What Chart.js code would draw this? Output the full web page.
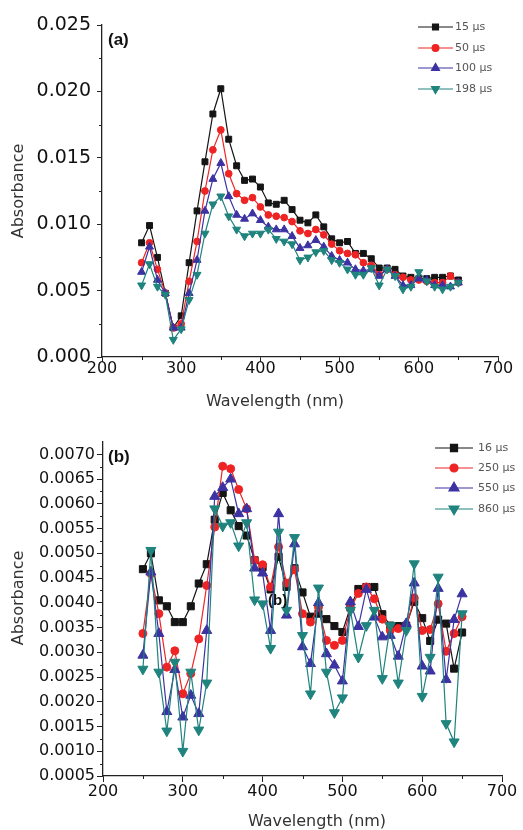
<!DOCTYPE html>
<html lang="en">
<head>
<meta charset="utf-8">
<script src="https://cdn.jsdelivr.net/npm/chart.js"></script>
<style>
  body { margin: 0; background: #fff; }
  .panel { position: absolute; left: 0; width: 523px; height: 415px; }
</style>
</head>
<body>
<div class="panel" style="top:0"><canvas id="chartA" width="523" height="415"></canvas></div>
<div class="panel" style="top:415px"><canvas id="chartB" width="523" height="415"></canvas></div>
<script>
const wavelength = [250, 260, 270, 280, 290, 300, 310, 320, 330, 340, 350, 360, 370, 380, 390, 400, 410, 420, 430, 440,
  450, 460, 470, 480, 490, 500, 510, 520, 530, 540, 550, 560, 570, 580, 590, 600, 610, 620, 630, 640, 650];

// panel (a)
const abs15 = [0.0086, 0.0099, 0.0075, 0.0048, 0.0022, 0.0031, 0.0071, 0.0110, 0.0147, 0.0183, 0.0202, 0.0164, 0.0144, 0.0133,
  0.0134, 0.0128, 0.0116, 0.0115, 0.0118, 0.0111, 0.0103, 0.0101, 0.0107, 0.0098, 0.0089, 0.0086, 0.0087, 0.0078, 0.0078,
  0.0074, 0.0067, 0.0067, 0.0066, 0.0061, 0.0060, 0.0059, 0.0059, 0.0060, 0.0060, 0.0061, 0.0058];
const abs50 = [0.0071, 0.0086, 0.0066, 0.0048, 0.0022, 0.0025, 0.0057, 0.0087, 0.0125, 0.0156, 0.0171, 0.0138, 0.0123, 0.0118,
  0.0120, 0.0113, 0.0107, 0.0106, 0.0105, 0.0102, 0.0095, 0.0093, 0.0096, 0.0092, 0.0085, 0.0080, 0.0078, 0.0077, 0.0071,
  0.0069, 0.0062, 0.0066, 0.0062, 0.0060, 0.0058, 0.0058, 0.0057, 0.0056, 0.0056, 0.0061, 0.0056];
const abs100 = [0.0064, 0.0083, 0.0058, 0.0048, 0.0022, 0.0022, 0.0048, 0.0073, 0.0110, 0.0134, 0.0146, 0.0121, 0.0107, 0.0104,
  0.0108, 0.0103, 0.0098, 0.0096, 0.0096, 0.0091, 0.0082, 0.0084, 0.0088, 0.0083, 0.0076, 0.0073, 0.0071, 0.0066, 0.0065,
  0.0066, 0.0061, 0.0066, 0.0061, 0.0054, 0.0054, 0.0059, 0.0058, 0.0054, 0.0054, 0.0053, 0.0056];
const abs198 = [0.0054, 0.0070, 0.0053, 0.0047, 0.0013, 0.0021, 0.0043, 0.0062, 0.0093, 0.0115, 0.0121, 0.0106, 0.0096, 0.0091,
  0.0093, 0.0093, 0.0096, 0.0089, 0.0087, 0.0085, 0.0073, 0.0075, 0.0079, 0.0080, 0.0073, 0.0071, 0.0066, 0.0062, 0.0062,
  0.0067, 0.0054, 0.0066, 0.0061, 0.0051, 0.0053, 0.0064, 0.0057, 0.0053, 0.0051, 0.0053, 0.0056];

// panel (b)
const abs16 = [0.00468, 0.00500, 0.00405, 0.00393, 0.00361, 0.00361, 0.00393, 0.00439, 0.00478, 0.00568, 0.00622, 0.00587,
  0.00555, 0.00536, 0.00486, 0.00472, 0.00427, 0.00493, 0.00432, 0.00470, 0.00421, 0.00372, 0.00378, 0.00367, 0.00353,
  0.00341, 0.00391, 0.00428, 0.00432, 0.00432, 0.00377, 0.00354, 0.00353, 0.00354, 0.00402, 0.00369, 0.00323, 0.00366,
  0.00358, 0.00267, 0.00340];
const abs250 = [0.00338, 0.00459, 0.00378, 0.00270, 0.00303, 0.00216, 0.00257, 0.00327, 0.00435, 0.00553, 0.00676, 0.00671,
  0.00629, 0.00590, 0.00486, 0.00477, 0.00432, 0.00513, 0.00440, 0.00467, 0.00378, 0.00361, 0.00391, 0.00324, 0.00314,
  0.00324, 0.00388, 0.00419, 0.00432, 0.00408, 0.00367, 0.00344, 0.00348, 0.00351, 0.00410, 0.00344, 0.00346, 0.00398,
  0.00302, 0.00338, 0.00372];
const abs550 = [0.00294, 0.00462, 0.00338, 0.00180, 0.00265, 0.00169, 0.00213, 0.00176, 0.00344, 0.00615, 0.00633, 0.00650,
  0.00580, 0.00590, 0.00470, 0.00460, 0.00344, 0.00580, 0.00375, 0.00519, 0.00311, 0.00277, 0.00400, 0.00297, 0.00274,
  0.00242, 0.00402, 0.00352, 0.00427, 0.00371, 0.00331, 0.00334, 0.00292, 0.00358, 0.00440, 0.00272, 0.00262, 0.00429,
  0.00245, 0.00366, 0.00418];
const abs860 = [0.00266, 0.00506, 0.00260, 0.00141, 0.00280, 0.00100, 0.00260, 0.00143, 0.00238, 0.00590, 0.00555, 0.00562,
  0.00515, 0.00562, 0.00406, 0.00398, 0.00308, 0.00543, 0.00385, 0.00532, 0.00334, 0.00216, 0.00430, 0.00260, 0.00178,
  0.00208, 0.00385, 0.00290, 0.00354, 0.00385, 0.00247, 0.00354, 0.00238, 0.00344, 0.00479, 0.00211, 0.00290, 0.00452,
  0.00156, 0.00119, 0.00378];

const BLACK = '#151515', RED = '#ee2424', BLUE = '#3c32a2', TEAL = '#1f837e';

function series(label, values, color, style, radius, rotation, order) {
  return {
    label: label,
    data: wavelength.map((w, i) => ({ x: w, y: values[i] })),
    borderColor: color,
    backgroundColor: color,
    borderWidth: 1.2,
    pointStyle: style,
    pointRadius: radius,
    pointRotation: rotation,
    pointBorderWidth: 1,
    tension: 0,
    order: order
  };
}

// minor ticks, line+marker legend and free text
const extras = {
  id: 'extras',
  afterDraw(chart, args, o) {
    const ctx = chart.ctx;
    ctx.save();
    ctx.strokeStyle = '#222';
    ctx.lineWidth = 1;
    ['x', 'y'].forEach(id => {
      const s = chart.scales[id];
      for (let i = 1; i < s.ticks.length; i++) {
        const p = Math.round(s.getPixelForValue((s.ticks[i - 1].value + s.ticks[i].value) / 2)) + 0.5;
        ctx.beginPath();
        if (id === 'x') { ctx.moveTo(p, s.top); ctx.lineTo(p, s.top + o.minorLen); }
        else { ctx.moveTo(s.right, p); ctx.lineTo(s.right - o.minorLen, p); }
        ctx.stroke();
      }
    });

    const lg = o.legend;
    chart.data.datasets.forEach((d, i) => {
      const y = lg.y[i];
      ctx.strokeStyle = d.borderColor;
      ctx.fillStyle = d.backgroundColor;
      ctx.lineWidth = 1.2;
      ctx.beginPath();
      ctx.moveTo(lg.x1, y);
      ctx.lineTo(lg.x2, y);
      ctx.stroke();
      Chart.helpers.drawPoint(ctx, {
        pointStyle: d.pointStyle, radius: d.pointRadius, rotation: d.pointRotation, borderWidth: 1
      }, (lg.x1 + lg.x2) / 2, y);
      ctx.fillStyle = '#555';
      ctx.font = lg.font;
      ctx.textAlign = 'left';
      ctx.textBaseline = 'middle';
      ctx.fillText(d.label, lg.x2 + lg.gap, y);
    });

    o.texts.forEach(t => {
      ctx.save();
      ctx.translate(t.x, t.y);
      if (t.rot) ctx.rotate(-Math.PI / 2);
      ctx.font = t.font;
      ctx.fillStyle = t.color || '#222';
      ctx.textAlign = t.align || 'center';
      ctx.textBaseline = 'middle';
      ctx.fillText(t.text, 0, 0);
      ctx.restore();
    });
    ctx.restore();
  }
};

function scales(yMin, yMax, yStep, digits, yFont, xFont, yWidth, xHeight, tickLen, xPad, yPad) {
  const grid = { display: true, drawOnChartArea: false, drawTicks: true, tickLength: tickLen, tickColor: '#222', tickWidth: 1 };
  const border = { display: true, color: '#222', width: 1.3 };
  return {
    x: {
      type: 'linear', min: 200, max: 700,
      grid: grid, border: border,
      ticks: { stepSize: 100, color: '#111', padding: xPad, maxRotation: 0,
        font: { family: 'DejaVu Sans', size: xFont } },
      afterFit: s => { s.height = xHeight; }
    },
    y: {
      min: yMin, max: yMax,
      grid: grid, border: border,
      ticks: { stepSize: yStep, includeBounds: false, color: '#111', padding: yPad,
        font: { family: 'DejaVu Sans', size: yFont },
        callback: v => v.toFixed(digits) },
      afterFit: s => { s.width = yWidth; }
    }
  };
}

new Chart(document.getElementById('chartA'), {
  type: 'line',
  data: {
    datasets: [
      series('15 µs', abs15, BLACK, 'rect', 4.2, 0, 3),
      series('50 µs', abs50, RED, 'circle', 3.4, 0, 2),
      series('100 µs', abs100, BLUE, 'triangle', 4.6, 0, 1),
      series('198 µs', abs198, TEAL, 'triangle', 4.6, 180, 0)
    ]
  },
  options: {
    responsive: false,
    animation: false,
    layout: { padding: { left: 0, right: 25, top: 25, bottom: 0 } },
    scales: scales(0, 0.025, 0.005, 3, 19, 16, 102, 58, 5, -3, 6),
    plugins: {
      legend: { display: false },
      tooltip: { enabled: false },
      extras: {
        minorLen: 3,
        legend: { x1: 418, x2: 453, gap: 2, y: [27, 48, 68, 89], font: '11px "DejaVu Sans"' },
        texts: [
          { text: '(a)', x: 108, y: 40, align: 'left', font: 'bold 17px "Liberation Sans"', color: '#111' },
          { text: 'Absorbance', x: 18.5, y: 191, rot: true, font: '16px "DejaVu Sans"', color: '#333' },
          { text: 'Wavelength (nm)', x: 275, y: 402, font: '16px "DejaVu Sans"', color: '#333' }
        ]
      }
    }
  },
  plugins: [extras]
});

new Chart(document.getElementById('chartB'), {
  type: 'line',
  data: {
    datasets: [
      series('16 µs', abs16, BLACK, 'rect', 5, 0, 3),
      series('250 µs', abs250, RED, 'circle', 4, 0, 2),
      series('550 µs', abs550, BLUE, 'triangle', 5.8, 0, 1),
      series('860 µs', abs860, TEAL, 'triangle', 5.8, 180, 0)
    ]
  },
  options: {
    responsive: false,
    animation: false,
    layout: { padding: { left: 0, right: 21, top: 27, bottom: 0 } },
    scales: scales(0.0005, 0.00725, 0.0005, 4, 16, 16, 103, 54, 6, 0, 2),
    plugins: {
      legend: { display: false },
      tooltip: { enabled: false },
      extras: {
        minorLen: 3,
        legend: { x1: 435, x2: 473, gap: 5, y: [33, 53, 73, 94], font: '11px "DejaVu Sans"' },
        texts: [
          { text: '(b)', x: 108, y: 42, align: 'left', font: 'bold 17px "Liberation Sans"', color: '#111' },
          { text: '(b)', x: 268, y: 186, align: 'left', font: 'bold 15px "Liberation Sans"', color: '#111' },
          { text: 'Absorbance', x: 18.5, y: 183, rot: true, font: '16px "DejaVu Sans"', color: '#333' },
          { text: 'Wavelength (nm)', x: 317, y: 407, font: '16px "DejaVu Sans"', color: '#333' }
        ]
      }
    }
  },
  plugins: [extras]
});
</script>
</body>
</html>
